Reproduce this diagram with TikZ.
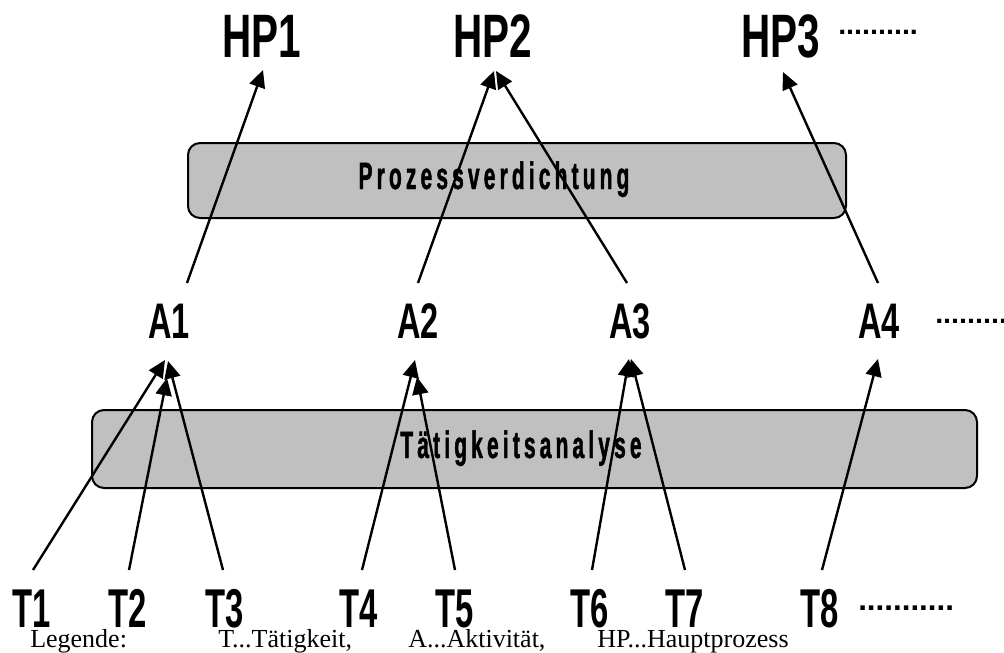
\documentclass[tikz,border=0pt]{standalone}
\usepackage{fontspec}
\setmainfont{Liberation Serif}
\usetikzlibrary{arrows.meta}
% condensed bold faces for the labels of the three levels and the two phases
\newfontfamily\hpfont{Liberation Sans}[FakeStretch=0.66]
\newfontfamily\actfont{Liberation Sans}[FakeStretch=0.65]
\newfontfamily\taskfont{Liberation Sans}[FakeStretch=0.60]
\newfontfamily\phasefont{Liberation Sans}[FakeStretch=0.55,LetterSpace=11,FakeBold=1.2]
\newfontfamily\dotfont{Liberation Sans}
\definecolor{phasegray}{RGB}{192,192,192}

\begin{document}
\begin{tikzpicture}[x=0.75pt,y=-0.75pt,
  hp/.style={inner sep=0pt, anchor=base, font=\hpfont\bfseries\fontsize{46pt}{46pt}\selectfont},
  act/.style={inner sep=0pt, anchor=base, font=\actfont\bfseries\fontsize{37.5pt}{37.5pt}\selectfont},
  task/.style={inner sep=0pt, anchor=base, font=\taskfont\bfseries\fontsize{41pt}{41pt}\selectfont},
  more/.style={inner sep=0pt, anchor=base west, font=\dotfont\bfseries\fontsize{21.5pt}{21.5pt}\selectfont},
  phase/.style={draw=black, line width=1.5pt, fill=phasegray, rounded corners=9pt, inner sep=0pt},
  phasetext/.style={inner sep=0pt, anchor=base, font=\phasefont\bfseries\fontsize{28.5pt}{28.5pt}\selectfont},
  legend/.style={inner sep=0pt, anchor=base west, font=\fontsize{19.5pt}{19.5pt}\selectfont},
  arr/.style={line width=1.8pt, -{Triangle[length=13pt,width=12pt]}}]

\useasboundingbox (0,0) rectangle (1004,653);

% main processes
\node[hp] (HP1) at (262,57) {HP1};
\node[hp] (HP2) at (493,57) {HP2};
\node[hp] (HP3) at (781,57) {HP3};
\node[more] (HPmore) at (838,34) {..........};

% phase boxes
\node[phase, minimum width=493.5pt, minimum height=56.25pt] (PV) at (517,180.5) {};
\node[phasetext] (PVt) at (494,189) {Prozessverdichtung};
\node[phase, minimum width=663.75pt, minimum height=58.5pt] (TA) at (534.5,449) {};
\node[phasetext] (TAt) at (521,458) {Tätigkeitsanalyse};

% activities
\node[act] (A1) at (169,338) {A1};
\node[act] (A2) at (418,338) {A2};
\node[act] (A3) at (630,338) {A3};
\node[act] (A4) at (879,338) {A4};
\node[more] (Amore) at (935,323) {.........};

% tasks
\node[task] (T1) at (32,627) {T1};
\node[task] (T2) at (128,627) {T2};
\node[task] (T3) at (225,627) {T3};
\node[task] (T4) at (359,627) {T4};
\node[task] (T5) at (455,627) {T5};
\node[task] (T6) at (590,627) {T6};
\node[task] (T7) at (685,627) {T7};
\node[task] (T8) at (820,627) {T8};
\node[more, font=\dotfont\bfseries\fontsize{23.5pt}{23.5pt}\selectfont] (Tmore) at (858,610) {...........};

% legend
\node[legend] (L0) at (30,647) {Legende:};
\node[legend] (L1) at (218,647) {T...Tätigkeit,};
\node[legend] (L2) at (408,647) {A...Aktivität,};
\node[legend] (L3) at (597,647) {HP...Hauptprozess};

% connector end points
\coordinate (t1) at (33,570);  \coordinate (a1l) at (165,360);
\coordinate (t2) at (129,570); \coordinate (a1m) at (167,378);
\coordinate (t3) at (223,570); \coordinate (a1r) at (168,361);
\coordinate (t4) at (362,570); \coordinate (a2l) at (415,360);
\coordinate (t5) at (455,570); \coordinate (a2m) at (417,377);
\coordinate (t6) at (592,570); \coordinate (a3l) at (629,359);
\coordinate (t7) at (685,570); \coordinate (a3r) at (631,359);
\coordinate (t8) at (822,570); \coordinate (a4i) at (878,359);
\coordinate (a1o) at (187,283); \coordinate (hp1i) at (263,70);
\coordinate (a2o) at (418,283); \coordinate (hp2l) at (494,71);
\coordinate (a3o) at (627,283); \coordinate (hp2r) at (496,71);
\coordinate (a4o) at (878,283); \coordinate (hp3i) at (783,72);

% tasks grouped into activities
\draw[arr] (t1) -- (a1l);
\draw[arr] (t2) -- (a1m);
\draw[arr] (t3) -- (a1r);
\draw[arr] (t4) -- (a2l);
\draw[arr] (t5) -- (a2m);
\draw[arr] (t6) -- (a3l);
\draw[arr] (t7) -- (a3r);
\draw[arr] (t8) -- (a4i);

% activities condensed into main processes
\draw[arr] (a1o) -- (hp1i);
\draw[arr] (a2o) -- (hp2l);
\draw[arr] (a3o) -- (hp2r);
\draw[arr] (a4o) -- (hp3i);
\end{tikzpicture}
\end{document}
